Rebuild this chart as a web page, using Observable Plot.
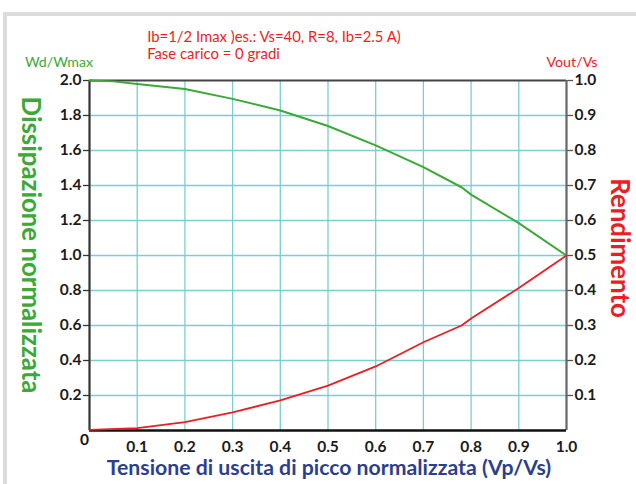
<!DOCTYPE html>
<html>
<head>
<meta charset="utf-8">
<script src="https://cdn.jsdelivr.net/npm/d3@7"></script>
<script src="https://cdn.jsdelivr.net/npm/@observablehq/plot@0.6"></script>
<style>
  html, body { margin: 0; padding: 0; background: #fff; }
  #wrap { position: relative; width: 636px; height: 484px; overflow: hidden; font-family: Lato, "Open Sans", sans-serif; }
  .lbl { position: absolute; white-space: nowrap; line-height: 1; display: inline-block; }
  #frameTop { position: absolute; left: 3px; top: 12px; width: 640px; height: 4px; background: #dcdcdc; }
  #frameLeft { position: absolute; left: 3px; top: 12px; width: 4px; height: 480px; background: #dcdcdc; }
  svg { position: absolute; left: 0; top: 0; }
</style>
</head>
<body>
<div id="wrap">
  <div id="frameTop"></div>
  <div id="frameLeft"></div>
</div>
<script>
// ---- data ----
const xVals        = [0, 0.05, 0.11, 0.2, 0.3, 0.4, 0.5, 0.6, 0.7, 0.78, 0.8, 0.9, 1.0];
const dissipazione = [2.0, 1.995, 1.977, 1.952, 1.895, 1.829, 1.740, 1.629, 1.505, 1.390, 1.348, 1.185, 1.0]; // Wd/Wmax (left axis)
const rendimentoX  = [0, 0.1, 0.2, 0.3, 0.4, 0.5, 0.6, 0.7, 0.78, 0.8, 0.9, 1.0];
const rendimento   = [0.002, 0.007, 0.024, 0.052, 0.086, 0.128, 0.183, 0.252, 0.300, 0.320, 0.407, 0.5]; // Vout/Vs (right axis)

const xTicks     = [0.1, 0.2, 0.3, 0.4, 0.5, 0.6, 0.7, 0.8, 0.9, 1.0];
const xGrid      = [0.1, 0.2, 0.3, 0.4, 0.5, 0.6, 0.7, 0.8, 0.9];
const leftTicks  = [0.2, 0.4, 0.6, 0.8, 1.0, 1.2, 1.4, 1.6, 1.8, 2.0];
const yGrid      = [0.2, 0.4, 0.6, 0.8, 1.0, 1.2, 1.4, 1.6, 1.8];
const rightTicks = [0.1, 0.2, 0.3, 0.4, 0.5, 0.6, 0.7, 0.8, 0.9, 1.0];
const originLabel = [{x: 0, y: 0, t: "0"}];

const titleLine1 = "Ib=1/2 Imax )es.: Vs=40, R=8, Ib=2.5 A)";
const titleLine2 = "Fase carico = 0 gradi";
const leftUnit   = "Wd/Wmax";
const rightUnit  = "Vout/Vs";
const leftTitle  = "Dissipazione normalizzata";
const rightTitle = "Rendimento";
const xTitle     = "Tensione di uscita di picco normalizzata (Vp/Vs)";

const RIGHT_FACTOR = 2; // right axis 0..1 mapped onto left 0..2

const green = "#3ba935";
const red = "#ee1d23";
const teal = "#79cfcf";

const greenData = xVals.map((x, i) => ({x, y: dissipazione[i]}));
const redData = rendimentoX.map((x, i) => ({x, y: rendimento[i] * RIGHT_FACTOR}));

const fmt = d3.format(".1f");

const chart = Plot.plot({
  width: 636,
  height: 484,
  marginLeft: 89,
  marginRight: 70,
  marginTop: 80,
  marginBottom: 54,
  x: {domain: [0, 1]},
  y: {domain: [0, 2]},
  style: {fontFamily: "Lato, 'Open Sans', sans-serif", fontSize: "15.5px", fontWeight: "bold", color: "#1b1b1b", background: "transparent"},
  marks: [
    Plot.gridX(xGrid, {stroke: teal, strokeOpacity: 1, strokeWidth: 1.3}),
    Plot.gridY(yGrid, {stroke: teal, strokeOpacity: 1, strokeWidth: 1.3}),
    Plot.axisY(leftTicks, {anchor: "left", tickSize: 6, tickPadding: 2, tickFormat: fmt, label: null, stroke: "#333", strokeWidth: 1.3}),
    Plot.axisY(rightTicks.map(v => v * RIGHT_FACTOR), {anchor: "right", tickSize: 6, tickPadding: 2, tickFormat: d => fmt(d / RIGHT_FACTOR), label: null, stroke: "#555", strokeWidth: 1.3}),
    Plot.axisX(xTicks, {anchor: "bottom", tickSize: 0, tickPadding: 10, tickFormat: fmt, label: null}),
    Plot.ruleY([2], {stroke: "#444", strokeWidth: 1.8}),
    Plot.ruleX([0], {stroke: "#333", strokeWidth: 2.2}),
    Plot.ruleX([1], {stroke: "#666", strokeWidth: 2.2}),
    Plot.ruleY([0], {stroke: "#111", strokeWidth: 2.6}),
    Plot.line(greenData, {x: "x", y: "y", stroke: green, strokeWidth: 2}),
    Plot.line(redData, {x: "x", y: "y", stroke: red, strokeWidth: 1.8}),
    Plot.text(originLabel, {x: "x", y: "y", text: "t", dx: -5, dy: 10, fill: "#111", fontWeight: "bold", fontSize: 15.5})
  ]
});
const wrap = document.getElementById("wrap");
wrap.appendChild(chart);

// ---- text labels around the chart ----
function label(text, {cx, cy, width, size, color, weight = "normal", rotate = 0}) {
  const el = document.createElement("div");
  el.className = "lbl";
  el.textContent = text;
  el.style.color = color;
  el.style.fontWeight = weight;
  el.style.fontSize = size + "px";
  wrap.appendChild(el);
  const w = el.offsetWidth;
  const fs = size * width / w;
  el.style.fontSize = fs + "px";
  el.style.left = cx + "px";
  el.style.top = cy + "px";
  el.style.transform = `translate(-50%, -50%) rotate(${rotate}deg)`;
  return el;
}
label(titleLine1, {cx: 274, cy: 36, width: 254, size: 14, color: red});
label(titleLine2, {cx: 213.5, cy: 53, width: 133, size: 14, color: red});
label(leftUnit,   {cx: 59, cy: 62, width: 68, size: 14, color: green});
label(rightUnit,  {cx: 572, cy: 62, width: 51, size: 14, color: red});
label(xTitle,     {cx: 329, cy: 468, width: 445, size: 19, color: "#2d3e8e", weight: "bold"});
label(leftTitle,  {cx: 31, cy: 245, width: 297, size: 22, color: green, weight: "bold", rotate: 90});
label(rightTitle, {cx: 620, cy: 248, width: 140, size: 22, color: red, weight: "bold", rotate: 90});
</script>
</body>
</html>
